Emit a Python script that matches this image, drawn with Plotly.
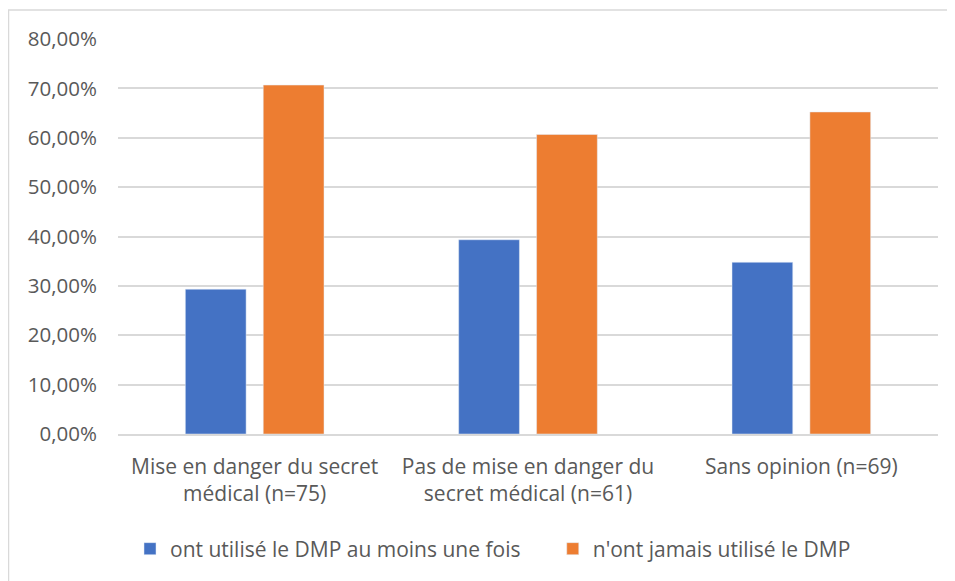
import plotly.graph_objects as go

categories = ["Mise en danger du secret<br>médical (n=75)",
              "Pas de mise en danger du<br>secret médical (n=61)",
              "Sans opinion (n=69)"]
series_names = ["ont utilisé le DMP au moins une fois", "n'ont jamais utilisé le DMP"]
used = [0.2933, 0.3934, 0.3478]
never = [0.7067, 0.6066, 0.6522]
y_ticks = [0, 0.1, 0.2, 0.3, 0.4, 0.5, 0.6, 0.7, 0.8]

OFF = 8  # default page body margin
PW, PH = 955, 581
W, H = PW - OFF, PH - OFF
L, R, T, B = 118 - OFF, 17, 39 - OFF, PH - 434
pw, ph = W - L - R, H - T - B

def px_x(p):
    return (p - OFF - L) / pw

def px_y(p):
    return (PH - B - p) / ph

text_col = "#595959"
font = "Open Sans"
pad = "\u00a0" * 5

fig = go.Figure()
fig.add_trace(go.Bar(x=categories, y=used, name=series_names[0] + pad, marker_color="#4472C4"))
fig.add_trace(go.Bar(x=categories, y=never, name=series_names[1], marker_color="#ED7D31"))

fig.update_layout(
    width=W, height=H,
    margin=dict(l=L, r=R, t=T, b=B, autoexpand=False),
    paper_bgcolor="white", plot_bgcolor="white",
    separators=", ",
    barmode="group", bargap=0.43, bargroupgap=0.22,
    font=dict(family=font, color=text_col, size=21),
    legend=dict(orientation="h", x=px_x(130), xanchor="left", y=px_y(549), yanchor="middle",
                font=dict(size=21, color=text_col), itemwidth=30, traceorder="normal"),
    xaxis=dict(showgrid=False, showline=True, linecolor="#D9D9D9", linewidth=1.5,
               tickfont=dict(size=21, color=text_col), ticks="", fixedrange=True,
               ticklabelstandoff=13),
    yaxis=dict(range=[0, 0.8], tickvals=y_ticks, tickformat=".2%", showgrid=True,
               gridcolor="#D9D9D9", gridwidth=1.5, zeroline=False, showline=False,
               tickfont=dict(size=20.5, color=text_col), ticks="", ticklabelstandoff=20),
    shapes=[
        dict(type="line", xref="paper", yref="paper", x0=px_x(8), x1=px_x(PW), y0=px_y(10), y1=px_y(10),
             line=dict(color="#D9D9D9", width=1.5)),
        dict(type="line", xref="paper", yref="paper", x0=px_x(8.5), x1=px_x(8.5), y0=px_y(10), y1=px_y(PH),
             line=dict(color="#D9D9D9", width=1.5)),
    ],
)

fig.write_html("out.html")
